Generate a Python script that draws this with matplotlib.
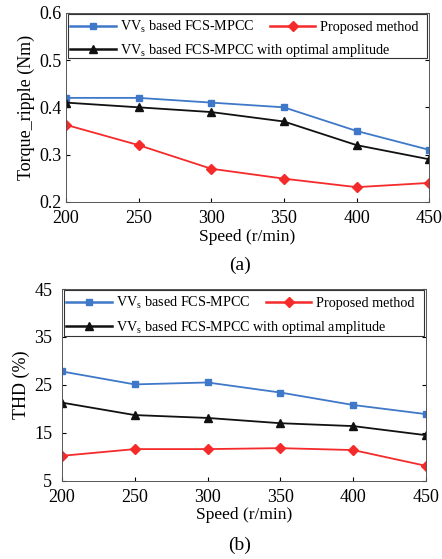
import numpy as np
import matplotlib
matplotlib.use("Agg")
import matplotlib.pyplot as plt
from matplotlib.lines import Line2D
from matplotlib.patches import Rectangle

plt.rcParams['font.family'] = ['Liberation Serif', 'DejaVu Serif']
plt.rcParams['mathtext.fontset'] = 'custom'
plt.rcParams['mathtext.rm'] = 'Liberation Serif'

# data
speed = [200, 250, 300, 350, 400, 450]

torque_vv = [0.42, 0.42, 0.41, 0.40, 0.35, 0.31]
torque_opt = [0.41, 0.40, 0.39, 0.37, 0.32, 0.29]
torque_prop = [0.363, 0.32, 0.27, 0.249, 0.231, 0.24]

thd_vv = [27.8, 25.1, 25.5, 23.4, 20.8, 18.9]
thd_opt = [21.3, 18.7, 18.1, 17.0, 16.4, 14.5]
thd_prop = [10.2, 11.6, 11.6, 11.8, 11.4, 8.1]

lbl_vv = r'VV$_\mathrm{s}$ based FCS-MPCC'
lbl_prop = 'Proposed method'
lbl_opt = r'VV$_\mathrm{s}$ based FCS-MPCC with optimal amplitude'

c_blue = '#3f78c8'
c_red = '#f52a2a'
c_black = '#111111'


def draw_panel(ax, vv, opt, prop, ylim, yticks, ylabel, box_bottom, ypad):
    ax.plot(speed, vv, color=c_blue, marker='s', ms=5, lw=1.3)
    ax.plot(speed, prop, color=c_red, marker='D', ms=5, lw=1.3)
    ax.plot(speed, opt, color=c_black, marker='^', ms=6, lw=1.3)
    ax.set_xlim(200, 450)
    ax.set_ylim(*ylim)
    ax.set_xticks(speed)
    ax.set_yticks(yticks)
    ax.tick_params(direction='in', length=3, labelsize=13, right=True, top=False)
    ax.tick_params(axis='x', pad=6)
    ax.tick_params(axis='y', pad=ypad)
    ax.set_xlabel('Speed (r/min)', fontsize=12.5, labelpad=1)
    ax.set_ylabel(ylabel, fontsize=13, labelpad=3)
    for s in ax.spines.values():
        s.set_linewidth(0.7)
        s.set_color('#555555')

    # legend frame + two rows (first row: two entries, second row: one)
    ax.add_patch(Rectangle((0.006, box_bottom), 0.988, 0.994 - box_bottom, transform=ax.transAxes,
                           fill=True, facecolor='white', edgecolor='#333333', lw=0.8, zorder=4))
    h_vv = Line2D([], [], color=c_blue, marker='s', ms=5, lw=1.8)
    h_prop = Line2D([], [], color=c_red, marker='D', ms=5, lw=1.8)
    h_opt = Line2D([], [], color=c_black, marker='^', ms=6, lw=1.8)
    leg1 = ax.legend([h_vv, h_prop], [lbl_vv, lbl_prop], ncol=2, loc='upper left',
                     bbox_to_anchor=(-0.003, 1.0), frameon=False, fontsize=10.2,
                     handlelength=3.2, handletextpad=0.3, columnspacing=1.1, borderaxespad=0)
    leg1.set_zorder(5)
    ax.add_artist(leg1)
    leg2 = ax.legend([h_opt], [lbl_opt], loc='upper left',
                     bbox_to_anchor=(-0.003, 1.0 - (0.994 - box_bottom) / 2 - 0.005), frameon=False,
                     fontsize=10.2, handlelength=3.2, handletextpad=0.3, borderaxespad=0)
    leg2.set_zorder(5)


fig = plt.figure(figsize=(4.42, 5.59), dpi=100)
ax1 = fig.add_axes([0.149, 0.639, 0.822, 0.338])
ax2 = fig.add_axes([0.140, 0.140, 0.824, 0.343])

draw_panel(ax1, torque_vv, torque_opt, torque_prop, (0.2, 0.6), [0.2, 0.3, 0.4, 0.5, 0.6],
           'Torque_ripple (Nm)', 0.76, 3)
draw_panel(ax2, thd_vv, thd_opt, thd_prop, (5, 45), [5, 15, 25, 35, 45],
           'THD (%)', 0.755, 7)

fig.text(0.543, 1 - 265 / 559, '(a)', ha='center', va='center', fontsize=14)
fig.text(0.543, 1 - 545 / 559, '(b)', ha='center', va='center', fontsize=14)

fig.savefig('out.png', dpi=100)
